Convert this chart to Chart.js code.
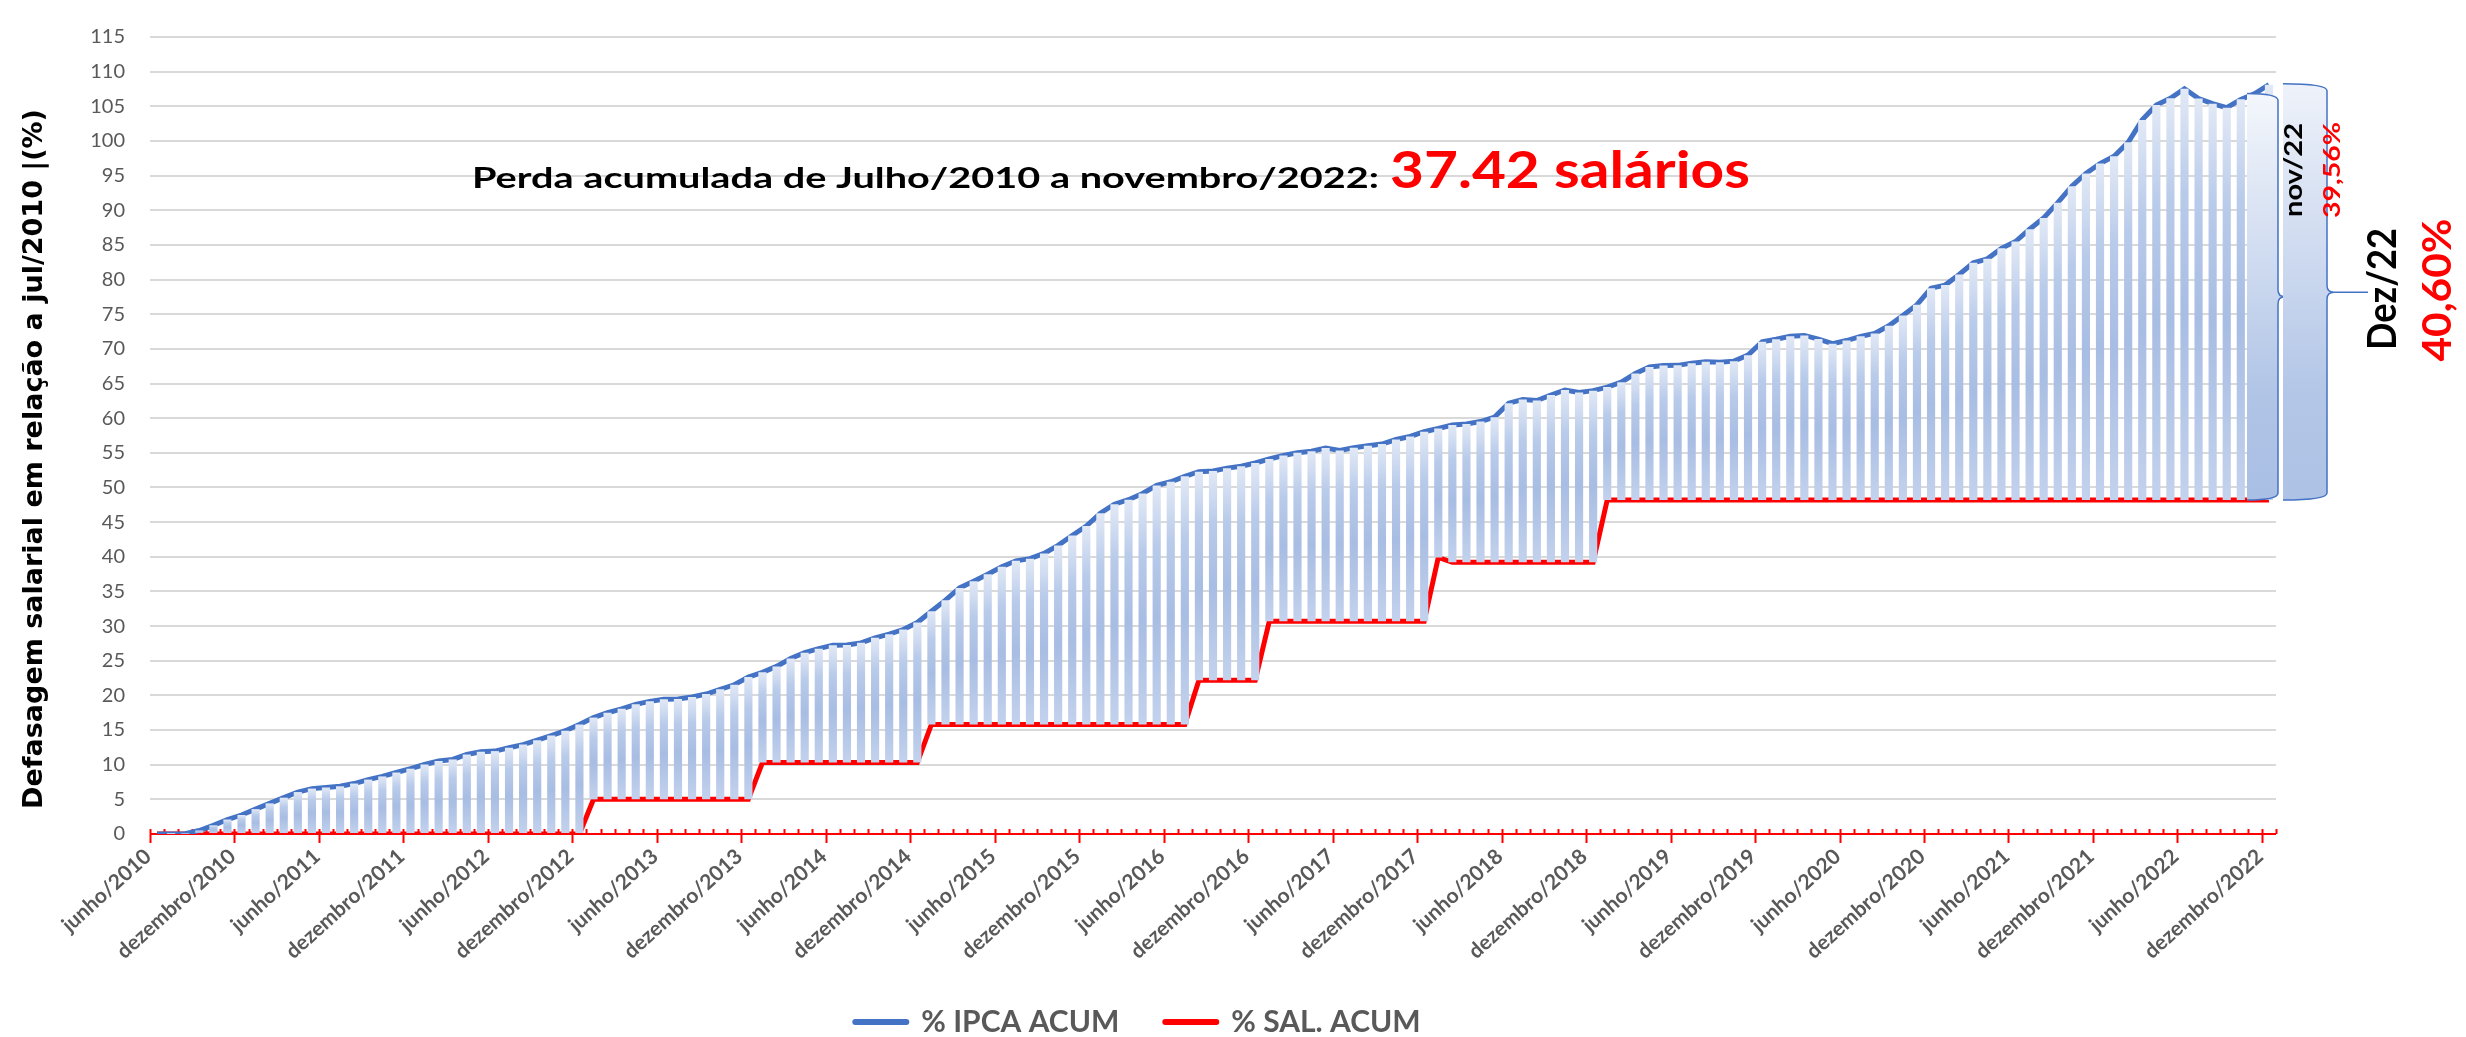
<!DOCTYPE html>
<html lang="pt-BR">
<head>
<meta charset="utf-8">
<title>Defasagem salarial</title>
<script src="https://cdn.jsdelivr.net/npm/chart.js@4.4.1/dist/chart.umd.min.js"></script>
<style>
  html, body { margin: 0; padding: 0; background: #fff; }
  #box { width: 2466px; height: 1037px; position: relative; }
</style>
</head>
<body>
<div id="box"><canvas id="grafico"></canvas></div>
<script>
// meses para os rótulos do eixo x (série começa em junho/2010)
const meses = ["janeiro", "fevereiro", "março", "abril", "maio", "junho",
  "julho", "agosto", "setembro", "outubro", "novembro", "dezembro"];
const anoInicial = 2010;
const mesInicial = 5; // junho

// % IPCA acumulado desde jun/2010
const ipcaAcum = [
  0, 0.01, 0.05, 0.50, 1.25, 2.09, 2.74,
  3.59, 4.42, 5.24, 6.05, 6.55, 6.71, 6.88, 7.28, 7.85, 8.31, 8.87, 9.42,
  10.03, 10.53, 10.76, 11.47, 11.87, 11.96, 12.44, 12.90, 13.54, 14.21, 14.90, 15.81,
  16.80, 17.50, 18.06, 18.71, 19.14, 19.45, 19.49, 19.78, 20.20, 20.88, 21.53, 22.65,
  23.33, 24.18, 25.32, 26.16, 26.74, 27.25, 27.26, 27.58, 28.31, 28.84, 29.50, 30.51,
  32.13, 33.74, 35.51, 36.47, 37.48, 38.57, 39.42, 39.73, 40.49, 41.64, 43.07, 44.44,
  46.28, 47.59, 48.23, 49.13, 50.30, 50.82, 51.61, 52.27, 52.39, 52.79, 53.07, 53.53,
  54.11, 54.62, 55.00, 55.22, 55.70, 55.34, 55.72, 56.01, 56.26, 56.92, 57.36, 58.05,
  58.51, 59.02, 59.16, 59.51, 60.15, 62.16, 62.70, 62.55, 63.33, 64.07, 63.72, 63.97,
  64.49, 65.20, 66.44, 67.39, 67.61, 67.62, 67.94, 68.13, 68.06, 68.23, 69.09, 71.03,
  71.39, 71.82, 71.94, 71.41, 70.75, 71.20, 71.81, 72.23, 73.33, 74.82, 76.38, 78.76,
  79.20, 80.74, 82.43, 82.99, 84.51, 85.49, 87.27, 88.90, 91.09, 93.48, 95.32, 96.74,
  97.80, 99.80, 103.04, 105.19, 106.15, 107.54, 106.12, 105.38, 104.79, 106.00, 106.84, 108.12
];

// % reajuste salarial acumulado desde jun/2010
const salAcum = [
  0, 0, 0, 0, 0, 0, 0,
  0, 0, 0, 0, 0, 0, 0, 0, 0, 0, 0, 0,
  0, 0, 0, 0, 0, 0, 0, 0, 0, 0, 0, 0,
  5.0, 5.0, 5.0, 5.0, 5.0, 5.0, 5.0, 5.0, 5.0, 5.0, 5.0, 5.0,
  10.3, 10.3, 10.3, 10.3, 10.3, 10.3, 10.3, 10.3, 10.3, 10.3, 10.3, 10.3,
  15.8, 15.8, 15.8, 15.8, 15.8, 15.8, 15.8, 15.8, 15.8, 15.8, 15.8, 15.8,
  15.8, 15.8, 15.8, 15.8, 15.8, 15.8, 15.8, 22.2, 22.2, 22.2, 22.2, 22.2,
  30.7, 30.7, 30.7, 30.7, 30.7, 30.7, 30.7, 30.7, 30.7, 30.7, 30.7, 30.7,
  39.9, 39.2, 39.2, 39.2, 39.2, 39.2, 39.2, 39.2, 39.2, 39.2, 39.2, 39.2,
  48.2, 48.2, 48.2, 48.2, 48.2, 48.2, 48.2, 48.2, 48.2, 48.2, 48.2, 48.2,
  48.2, 48.2, 48.2, 48.2, 48.2, 48.2, 48.2, 48.2, 48.2, 48.2, 48.2, 48.2,
  48.2, 48.2, 48.2, 48.2, 48.2, 48.2, 48.2, 48.2, 48.2, 48.2, 48.2, 48.2,
  48.2, 48.2, 48.2, 48.2, 48.2, 48.2, 48.2, 48.2, 48.2, 48.2, 48.2, 48.2
];

const nomesSeries = ["% IPCA ACUM", "% SAL. ACUM"];
const tituloY = "Defasagem salarial em relação a jul/2010 |(%)";
const textoPerda = "Perda acumulada de Julho/2010 a novembro/2022:";
const valorPerda = "37.42 salários";
const chaveNov = ["nov/22", "39,56%"];
const chaveDez = ["Dez/22", "40,60%"];

const labels = [];
for (let i = 0; i < ipcaAcum.length; i++) {
  const m = mesInicial + i;
  labels.push(meses[m % 12] + "/" + (anoInicial + Math.floor(m / 12)));
}
const faixas = ipcaAcum.map((v, i) => [salAcum[i], v]);

const AZUL = "#4472c4";
const VERMELHO = "#ff0000";
const CINZA = "#595959";

function preenchimentoBarra(context) {
  const chart = context.chart;
  const { ctx, chartArea, scales } = chart;
  if (!chartArea || context.type !== "data") return "#b4c7e7";
  const i = context.dataIndex;
  const yTop = scales.y.getPixelForValue(ipcaAcum[i]);
  const yBot = scales.y.getPixelForValue(salAcum[i]);
  if (yBot - yTop < 2) return "#c9d7ef";
  const g = ctx.createLinearGradient(0, yTop, 0, yBot);
  g.addColorStop(0, "#e2e9f6");
  g.addColorStop(0.25, "#b9cbea");
  g.addColorStop(0.55, "#a8bde3");
  g.addColorStop(1, "#c3d2ed");
  return g;
}

// texto com largura ajustada (fonte do Excel um pouco mais larga)
function texto(ctx, str, x, y, font, cor, largura, opts = {}) {
  ctx.save();
  ctx.font = font;
  ctx.fillStyle = cor;
  ctx.textAlign = opts.align || "left";
  ctx.textBaseline = opts.baseline || "alphabetic";
  ctx.translate(x, y);
  if (opts.rot) ctx.rotate(opts.rot);
  const w = ctx.measureText(str).width;
  ctx.scale(largura / w, 1);
  ctx.fillText(str, 0, 0);
  ctx.restore();
}

function chave(ctx, x0, x1, xPonta, yTop, yBot, yPonta, fundo) {
  const r = 7;
  ctx.save();
  ctx.beginPath();
  ctx.moveTo(x0, yTop);
  ctx.bezierCurveTo(x0 + (x1 - x0) * 0.6, yTop, x1, yTop + 2, x1, yTop + r);
  ctx.lineTo(x1, yPonta - r);
  ctx.quadraticCurveTo(x1, yPonta, x1 + r, yPonta);
  ctx.lineTo(xPonta, yPonta);
  ctx.lineTo(x1 + r, yPonta);
  ctx.quadraticCurveTo(x1, yPonta, x1, yPonta + r);
  ctx.lineTo(x1, yBot - r);
  ctx.bezierCurveTo(x1, yBot - 2, x0 + (x1 - x0) * 0.6, yBot, x0, yBot);
  const g = ctx.createLinearGradient(0, yTop, 0, yBot);
  g.addColorStop(0, fundo[0]);
  g.addColorStop(0.75, fundo[1]);
  g.addColorStop(1, fundo[2]);
  ctx.fillStyle = g;
  ctx.fill();
  ctx.strokeStyle = AZUL;
  ctx.lineWidth = 1.5;
  ctx.stroke();
  ctx.restore();
}

const eixoX = {
  id: "eixoX",
  beforeDatasetsDraw(chart) {
    const { ctx, chartArea, scales } = chart;
    const x = scales.x;
    const y0 = scales.y.getPixelForValue(0);
    const passo = x.getPixelForValue(1) - x.getPixelForValue(0);
    ctx.save();
    ctx.strokeStyle = VERMELHO;
    ctx.lineWidth = 2;
    ctx.beginPath();
    ctx.moveTo(chartArea.left, y0);
    ctx.lineTo(chartArea.right, y0);
    for (let i = 0; i <= labels.length; i++) {
      const px = Math.round(x.getPixelForValue(i) - passo / 2) + 0.5;
      ctx.moveTo(px, y0 - 5);
      ctx.lineTo(px, i % 6 === 0 ? y0 + 9 : y0);
    }
    ctx.stroke();
    ctx.restore();
  }
};

const anotacoes = {
  id: "anotacoes",
  afterDatasetsDraw(chart) {
    const { ctx, chartArea, scales } = chart;
    const y = scales.y;
    const dir = chartArea.right;
    const n = ipcaAcum.length;

    // chave de novembro/22
    chave(ctx, dir - 29, dir + 2, dir + 31,
      y.getPixelForValue(ipcaAcum[n - 2]), y.getPixelForValue(salAcum[n - 2]),
      (y.getPixelForValue(ipcaAcum[n - 2]) + y.getPixelForValue(salAcum[n - 2])) / 2,
      ["#f4f7fc", "#b0c4e6", "#a9bfe4"]);
    // chave de dezembro/22
    chave(ctx, dir + 7, dir + 51, dir + 92,
      y.getPixelForValue(ipcaAcum[n - 1]) - 1, y.getPixelForValue(salAcum[n - 1]),
      (y.getPixelForValue(ipcaAcum[n - 1]) + y.getPixelForValue(salAcum[n - 1])) / 2,
      ["#eef2fa", "#b3c6e7", "#adc2e5"]);

    const rot = -Math.PI / 2;
    const c = { align: "center", baseline: "middle", rot };
    texto(ctx, chaveNov[0], dir + 18, 170, "bold 24px Lato", "#000", 94, c);
    texto(ctx, chaveNov[1], dir + 57, 170, "bold 22px Lato", VERMELHO, 96, c);
    texto(ctx, chaveDez[0], dir + 107, 289, "bold 41px Lato", "#000", 122, c);
    texto(ctx, chaveDez[1], dir + 162, 290, "bold 41px Lato", VERMELHO, 143, c);

    texto(ctx, textoPerda, 472, 188, "bold 29px Lato", "#000", 907);
    texto(ctx, valorPerda, 1390, 188, "bold 51px Lato", VERMELHO, 360);
  }
};

new Chart(document.getElementById("grafico"), {
  data: {
    labels: labels,
    datasets: [
      {
        type: "bar",
        label: "faixa",
        data: faixas,
        backgroundColor: preenchimentoBarra,
        borderWidth: 0,
        categoryPercentage: 1,
        barPercentage: 0.58,
        order: 0
      },
      {
        type: "line",
        label: nomesSeries[0],
        data: ipcaAcum,
        borderColor: AZUL,
        backgroundColor: AZUL,
        borderWidth: 5,
        pointRadius: 0,
        tension: 0,
        order: 1
      },
      {
        type: "line",
        label: nomesSeries[1],
        data: salAcum,
        borderColor: VERMELHO,
        backgroundColor: VERMELHO,
        borderWidth: 5,
        pointRadius: 0,
        tension: 0,
        order: 2
      }
    ]
  },
  options: {
    responsive: true,
    maintainAspectRatio: false,
    animation: false,
    events: [],
    layout: { padding: { top: 15, right: 190, left: 0, bottom: 0 } },
    plugins: {
      tooltip: { enabled: false },
      legend: {
        position: "bottom",
        maxHeight: 76,
        labels: {
          filter: item => item.datasetIndex > 0,
          usePointStyle: true,
          pointStyle: "line",
          pointStyleWidth: 51,
          padding: 46,
          color: CINZA,
          font: { family: "Lato", weight: "bold", size: 30 },
          generateLabels(chart) {
            const itens = Chart.defaults.plugins.legend.labels.generateLabels(chart);
            itens.forEach(it => { it.lineWidth = 6; it.lineCap = "round"; });
            return itens;
          }
        }
      }
    },
    scales: {
      x: {
        grid: { display: false, drawTicks: false },
        border: { display: false },
        afterFit(s) { s.height = 127; },
        ticks: {
          autoSkip: false,
          minRotation: 42,
          maxRotation: 42,
          padding: 10,
          labelOffset: -9,
          color: CINZA,
          font: { family: "Lato", weight: "bold", size: 21 },
          callback: (v, i) => (i % 6 === 0 ? labels[i] : "")
        }
      },
      y: {
        min: 0,
        max: 115,
        afterFit(s) { s.width = 150; },
        grid: { color: "#d9d9d9", lineWidth: 2, drawTicks: false },
        border: { display: false },
        ticks: {
          stepSize: 5,
          padding: 25,
          color: CINZA,
          font: { family: "Lato", size: 20 }
        },
        title: {
          display: true,
          text: tituloY + "\u00a0\u00a0\u00a0\u00a0\u00a0",
          color: "#000",
          padding: { top: 19, bottom: 0 },
          font: { family: "DejaVu Sans", weight: "bold", size: 27 }
        }
      }
    }
  },
  plugins: [eixoX, anotacoes]
});
</script>
</body>
</html>
